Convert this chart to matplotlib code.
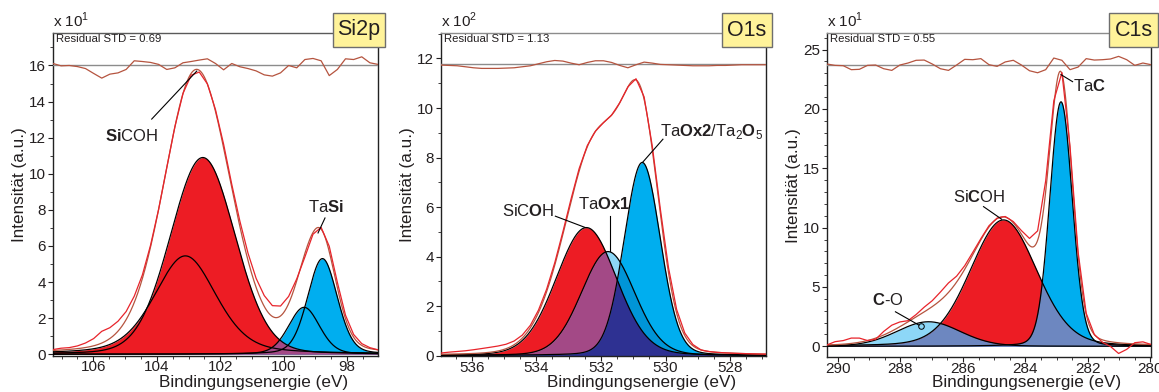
import matplotlib
matplotlib.use("Agg")
import matplotlib.pyplot as plt
import numpy as np
from matplotlib.patches import Rectangle
from matplotlib.ticker import MultipleLocator

plt.rcParams["font.family"] = ["Liberation Sans", "DejaVu Sans"]
plt.rcParams["mathtext.fontset"] = "custom"
plt.rcParams["mathtext.rm"] = "Liberation Sans"
plt.rcParams["mathtext.bf"] = "Liberation Sans:bold"

RED = "#ED1C24"
CYAN = "#00AEEF"
LIGHT = "#8DD7F7"
PURPLE = "#A34986"
NAVY = "#2E3192"
MIDBLUE = "#0095D7"
STEEL = "#6D87C0"
BROWN = "#B5543F"
RAWRED = "#E8242B"
TXT = "#231F20"

# ---- Si2p (x 10^1) ----
SI_XLIM = (107.27, 97.03)
SI_YLIM = (-0.07, 17.8)
SI_CENTER = [102.55, 103.1, 98.78, 99.36]
SI_HEIGHT = [10.9, 5.45, 5.3, 2.6]
SI_FWHM = [2.4, 2.3, 1.1, 1.15]
SI_ETA = [0.1, 0.35, 0.2, 0.2]
SI_GROUP = [0, 0, 1, 1]
SI_RESID_LEVEL = 16.0
SI_RESID = [0.11, -0.02, 0.0, -0.06, -0.17, -0.44, -0.70, -0.48, -0.41, -0.22,
            0.26, 0.22, 0.17, 0.06, -0.22, -0.13, 0.15, 0.22, 0.30, 0.37,
            0.11, -0.24, 0.11, -0.07, -0.17, -0.30, -0.52, -0.59, -0.41, 0.0,
            -0.13, 0.33, 0.39, 0.26, -0.56, -0.22, 0.37, 0.33, 0.48, 0.15, 0.06]
SI_RAWDEV = [0.05, 0.1, 0.1, 0.15, 0.25, 0.4, 0.65, 0.6, 0.55, 0.45,
             0.35, 0.2, 0.1, 0.0, 0.0, 0.0, 0.0, -0.1, -0.1, 0.0,
             0.1, 0.2, 0.2, 0.3, 0.4, 0.5, 0.6, 0.6, 0.55, 0.4,
             0.1, -0.2, -0.1, 0.1, 0.3, 0.3, 0.2, 0.15, 0.1, 0.05, 0.0]

# ---- O1s (x 10^2) ----
O_XLIM = (536.95, 526.89)
O_YLIM = (-0.03, 13.03)
O_CENTER = [532.45, 531.78, 530.72]
O_HEIGHT = [5.17, 4.2, 7.8]
O_FWHM = [2.2, 1.95, 1.32]
O_ETA = [0.1, 0.1, 0.1]
O_GROUP = [0, 1, 2]
O_RESID_LEVEL = 11.76
O_RESID = [-0.027, -0.04, -0.054, -0.094, -0.135, -0.16, -0.16, -0.16, -0.148, -0.135,
           -0.094, -0.054, 0.027, 0.108, 0.16, 0.135, 0.054, -0.013, 0.08, 0.148,
           0.148, 0.08, -0.04, -0.135, -0.013, 0.094, 0.054, 0.0, -0.013, -0.027,
           -0.04, -0.054, -0.054, -0.054, -0.04, -0.04, -0.027, -0.013, -0.013, -0.013, -0.013]
O_RAWDEV = [0.05, 0.08, 0.1, 0.12, 0.15, 0.18, 0.2, 0.2, 0.18, 0.15,
            0.12, 0.1, 0.1, 0.1, 0.1, 0.1, 0.1, 0.1, 0.05, 0.0,
            0.0, 0.0, 0.0, 0.0, 0.05, 0.1, 0.15, 0.2, 0.2, 0.15,
            0.1, 0.05, 0.0, 0.0, 0.0, 0.0, 0.0, 0.0, 0.0, 0.0, 0.0]

# ---- C1s (x 10^1) ----
C_XLIM = (290.35, 279.98)
C_YLIM = (-0.9, 26.4)
C_CENTER = [287.1, 284.7, 282.86]
C_HEIGHT = [2.07, 10.65, 20.6]
C_FWHM = [2.4, 2.5, 0.85]
C_ETA = [0.1, 0.15, 0.1]
C_GROUP = [0, 1, 2]
C_RESID_LEVEL = 23.73
C_RESID = [0.056, -0.056, -0.084, -0.42, -0.39, -0.056, -0.028, -0.34, -0.48, -0.028,
           0.14, 0.37, 0.39, 0.056, -0.34, -0.48, -0.028, 0.45, 0.42, 0.51,
           0.0, -0.14, 0.23, 0.37, -0.028, -0.51, -0.68, -0.42, 0.56, 0.37,
           -0.42, -0.2, 0.51, 0.39, 0.42, 0.48, 0.7, 0.42, -0.056, 0.14, 0.0]
C_RAWDEV = [0.0, 0.25, 0.3, 0.45, 0.35, 0.0, -0.1, 0.3, 0.5, 0.4,
            0.1, 0.2, 0.4, 0.5, 0.7, 0.8, 0.5, 0.3, 0.2, 0.1,
            0.1, 0.05, 0.05, 0.1, 0.3, 0.6, 0.8, 0.9, 0.5, 0.1,
            0.3, 0.2, 0.1, 0.0, -0.2, -0.4, -0.9, -0.5, 0.1, 0.2, 0.0]


def pseudo_voigt(e, center, height, fwhm, eta):
    d = (e - center) / fwhm
    gauss = np.exp(-4 * np.log(2) * d ** 2)
    lorentz = 1.0 / (1.0 + 4 * d ** 2)
    return height * ((1 - eta) * gauss + eta * lorentz)


def draw_panel(ax, xlim, ylim, centers, heights, fwhms, etas, groups,
               fill_order, resid_level, resid, rawdev):
    e = np.linspace(xlim[0], xlim[1], 1200)
    comps = [pseudo_voigt(e, c, h, w, n)
             for c, h, w, n in zip(centers, heights, fwhms, etas)]
    n_groups = max(groups) + 1
    group_curves = []
    for g in range(n_groups):
        members = [comps[i] for i in range(len(comps)) if groups[i] == g]
        group_curves.append(np.max(members, axis=0))

    # filled components, overlaps get their own colour
    for subset, color in fill_order:
        y = np.min([group_curves[g] for g in subset], axis=0)
        ax.fill_between(e, 0, y, color=color, lw=0, zorder=2)

    for comp in comps:
        ax.plot(e, comp, color="black", lw=0.9, zorder=3)

    envelope = np.sum(comps, axis=0)
    ax.plot(e, envelope, color=BROWN, lw=0.9, zorder=4)

    eg = np.linspace(xlim[0], xlim[1], len(rawdev))
    env_g = np.sum([pseudo_voigt(eg, c, h, w, n)
                    for c, h, w, n in zip(centers, heights, fwhms, etas)], axis=0)
    ax.plot(eg, env_g + np.array(rawdev), color=RAWRED, lw=0.9, zorder=5)

    ax.axhline(resid_level, color="#8C8C8C", lw=1.0, zorder=3)
    er = np.linspace(xlim[0], xlim[1], len(resid))
    ax.plot(er, resid_level + np.array(resid), color=BROWN, lw=0.9, zorder=4)

    ax.set_xlim(*xlim)
    ax.set_ylim(*ylim)


fig = plt.figure(figsize=(11.59, 3.92), dpi=100)
W, H = 1159.0, 392.0

panels = [
    dict(rect=(53, 378, 33, 355.5), xlim=SI_XLIM, ylim=SI_YLIM, c=SI_CENTER,
         h=SI_HEIGHT, w=SI_FWHM, n=SI_ETA, g=SI_GROUP,
         fills=[((0,), RED), ((1,), CYAN), ((0, 1), PURPLE)],
         rl=SI_RESID_LEVEL, r=SI_RESID, rd=SI_RAWDEV, ymaj=2, ymin=1,
         exp="x 10$^{1}$", std="Residual STD = 0.69", box=(333, 385), name="Si2p",
         topc="#5A5A5A"),
    dict(rect=(441, 766, 33, 356.3), xlim=O_XLIM, ylim=O_YLIM, c=O_CENTER,
         h=O_HEIGHT, w=O_FWHM, n=O_ETA, g=O_GROUP,
         fills=[((0,), RED), ((1,), LIGHT), ((2,), CYAN), ((0, 1), PURPLE),
                ((1, 2), MIDBLUE), ((0, 2), NAVY)],
         rl=O_RESID_LEVEL, r=O_RESID, rd=O_RAWDEV, ymaj=2, ymin=1,
         exp="x 10$^{2}$", std="Residual STD = 1.13", box=(722, 772), name="O1s",
         topc="#8C8C8C"),
    dict(rect=(827, 1151, 33, 357), xlim=C_XLIM, ylim=C_YLIM, c=C_CENTER,
         h=C_HEIGHT, w=C_FWHM, n=C_ETA, g=C_GROUP,
         fills=[((0,), LIGHT), ((1,), RED), ((2,), CYAN), ((0, 1), STEEL),
                ((1, 2), STEEL), ((0, 2), STEEL)],
         rl=C_RESID_LEVEL, r=C_RESID, rd=C_RAWDEV, ymaj=5, ymin=1,
         exp="x 10$^{1}$", std="Residual STD = 0.55", box=(1109, 1158), name="C1s",
         topc="#8C8C8C"),
]

axes = []
for p in panels:
    x0, x1, top, bot = p["rect"]
    ax = fig.add_axes([x0 / W, (H - bot) / H, (x1 - x0) / W, (bot - top) / H])
    draw_panel(ax, p["xlim"], p["ylim"], p["c"], p["h"], p["w"], p["n"], p["g"],
               p["fills"], p["rl"], p["r"], p["rd"])
    ax.xaxis.set_major_locator(MultipleLocator(2))
    ax.xaxis.set_minor_locator(MultipleLocator(0.5))
    ax.yaxis.set_major_locator(MultipleLocator(p["ymaj"]))
    ax.yaxis.set_minor_locator(MultipleLocator(p["ymin"]))
    ax.tick_params(which="major", direction="out", length=3.5, width=0.8,
                   labelsize=11, colors=TXT)
    ax.tick_params(axis="x", which="major", pad=0)
    ax.tick_params(axis="y", which="major", pad=1.5)
    ax.tick_params(which="minor", direction="out", length=2, width=0.6, colors=TXT)
    for side in ("left", "bottom", "right"):
        ax.spines[side].set_color("#222222")
        ax.spines[side].set_linewidth(1.0)
    ax.spines["top"].set_color(p["topc"])
    ax.spines["top"].set_linewidth(1.0)

    ax.set_xlabel("Bindingungsenergie (eV)", fontsize=12.3, color=TXT, va="baseline")
    ax.xaxis.set_label_coords(0.617, -(387 - bot) / (bot - top))
    ax.set_ylabel("Intensität (a.u.)", fontsize=12.3, color=TXT)
    ax.yaxis.set_label_coords(-26 / (x1 - x0), 0.53)

    ax.text(0.0, 1.008, p["exp"], transform=ax.transAxes, ha="left", va="bottom",
            fontsize=11, color=TXT)
    ax.text(0.01, 0.996, p["std"], transform=ax.transAxes, ha="left", va="top",
            fontsize=8.2, color=TXT, zorder=6)

    bx0, bx1 = p["box"]
    fig.patches.append(Rectangle((bx0 / W, (H - 47) / H), (bx1 - bx0) / W, 34 / H,
                                 transform=fig.transFigure, facecolor="#FFF39A",
                                 edgecolor="#6E6E6E", lw=1.0, zorder=5))
    fig.text((bx0 + bx1) / 2 / W, (H - 30) / H, p["name"], ha="center", va="center",
             fontsize=15.5, color=TXT, zorder=6)
    axes.append(ax)

ax_si, ax_o, ax_c = axes
line_kw = dict(color="black", lw=0.8)
ann_fs = 12

# Si2p annotations
ax_si.text(104.78, 12.09, r"$\mathbf{Si}$COH", ha="center", va="center", fontsize=ann_fs, color=TXT)
ax_si.plot([104.16, 102.74], [13.03, 15.69], zorder=6, **line_kw)
ax_si.text(98.67, 8.16, r"Ta$\mathbf{Si}$", ha="center", va="center", fontsize=ann_fs, color=TXT)
ax_si.plot([98.70, 98.92], [7.55, 6.72], zorder=6, **line_kw)

# O1s annotations
ax_o.text(530.16, 9.06, r"Ta$\mathbf{Ox2}$/Ta$_{2}$$\mathbf{O}$$_{5}$", ha="left", va="center",
          fontsize=ann_fs, color=TXT)
ax_o.plot([530.08, 530.7], [8.74, 7.82], zorder=6, **line_kw)
ax_o.text(534.24, 5.83, r"SiC$\mathbf{O}$H", ha="center", va="center", fontsize=ann_fs, color=TXT)
ax_o.plot([533.41, 532.5], [5.63, 5.18], zorder=6, **line_kw)
ax_o.text(531.91, 6.11, r"Ta$\mathbf{Ox1}$", ha="center", va="center", fontsize=ann_fs, color=TXT)
ax_o.plot([531.72, 531.72], [5.64, 4.23], zorder=6, **line_kw)

# C1s annotations
ax_c.text(282.48, 21.96, r"Ta$\mathbf{C}$", ha="left", va="center", fontsize=ann_fs, color=TXT)
ax_c.plot([282.49, 282.86], [22.3, 22.89], zorder=6, **line_kw)
ax_c.text(285.49, 12.6, r"Si$\mathbf{C}$OH", ha="center", va="center", fontsize=ann_fs, color=TXT)
ax_c.plot([285.34, 284.76], [11.77, 10.71], zorder=6, **line_kw)
ax_c.text(288.41, 3.9, r"$\mathbf{C}$-O", ha="center", va="center", fontsize=ann_fs, color=TXT)
ax_c.plot([288.16, 287.41], [2.91, 1.79], zorder=6, **line_kw)
ax_c.plot([287.35], [1.72], marker="o", ms=4, mfc="none", mec="black", mew=0.7, zorder=6)

fig.savefig("out.png", dpi=100)
